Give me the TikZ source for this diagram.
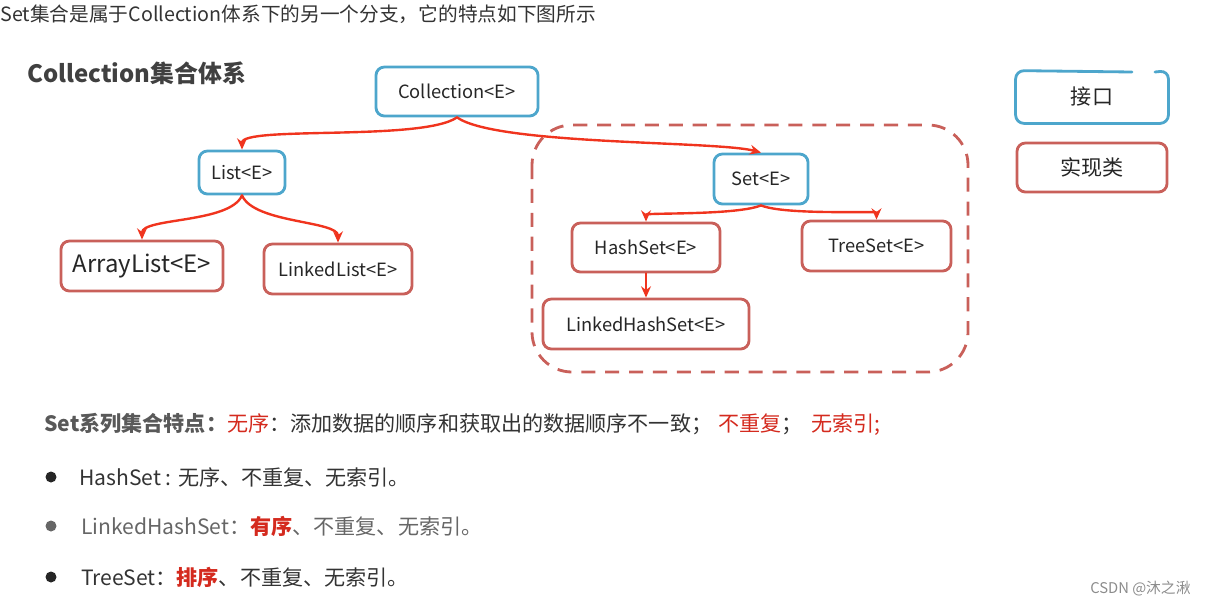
\documentclass[tikz,border=0pt]{standalone}
\usepackage{fontspec}
\setmainfont{Noto Sans CJK SC}
\usetikzlibrary{arrows.meta}
\definecolor{ifblue}{HTML}{4DA6CC}
\definecolor{clsred}{HTML}{C9605A}
\definecolor{arrred}{HTML}{F0341E}
\definecolor{txtred}{HTML}{D42A1E}
\definecolor{txtdark}{HTML}{333333}
\begin{document}
\begin{tikzpicture}[x=0.025cm,y=-0.025cm,line join=round,line cap=round,>={Stealth[length=8pt,width=7pt]},
	box/.style={rounded corners=6pt,line width=2pt,fill=white,text=black!85,font=\fontsize{13}{15}\selectfont,inner sep=0pt},
	iface/.style={box,draw=ifblue},
	impl/.style={box,draw=clsred},
	link/.style={->,draw=arrred,line width=1.7pt},
	txt/.style={anchor=west,inner sep=0pt,text=txtdark,font=\fontsize{14}{16}\selectfont}]
	\useasboundingbox (0,0) rectangle (1208,607);
	\node[txt] (intro) at (0,14) {Set集合是属于Collection体系下的另一个分支，它的特点如下图所示};
	\node[txt,font=\fontsize{17}{19}\selectfont\bfseries,text=black!75] (ttl) at (27,73) {Collection集合体系};
	% Set 的范围
	\draw[clsred,line width=2pt,dash pattern=on 10pt off 7pt,line cap=butt,rounded corners=1cm] (532,125) rectangle (968,372);
	\node[iface,minimum width=4.05cm,minimum height=1.225cm] (coll) at (457,91.5) {Collection<E>};
	\node[iface,minimum width=2.15cm,minimum height=1.075cm] (list) at (242,172.5) {List<E>};
	\node[iface,minimum width=2.35cm,minimum height=1.25cm] (set) at (761,179) {Set<E>};
	\node[impl,minimum width=4.05cm,minimum height=1.25cm,font=\fontsize{17}{19}\selectfont] (arr) at (142,266) {ArrayList<E>};
	\node[impl,minimum width=3.7cm,minimum height=1.25cm] (lnkl) at (338,269) {LinkedList<E>};
	\node[impl,minimum width=3.7cm,minimum height=1.225cm] (hset) at (646,247.5) {HashSet<E>};
	\node[impl,minimum width=3.725cm,minimum height=1.25cm] (tset) at (876.5,246) {TreeSet<E>};
	\node[impl,minimum width=5.15cm,minimum height=1.25cm] (lhset) at (646,324) {LinkedHashSet<E>};
	\draw[link] (coll.south) .. controls +(-35,24) and +(0,-24) .. (list.north);
	\draw[link] (coll.south) .. controls +(40,28) and +(-45,-12) .. (set.north);
	\draw[link] (list.south) .. controls +(-12,28) and +(0,-22) .. (arr.north);
	\draw[link] (list.south) .. controls +(12,28) and +(0,-22) .. (lnkl.north);
	\draw[link] (set.south) .. controls +(-25,10) and +(0,-9) .. (hset.north);
	\draw[link] (set.south) .. controls +(25,10) and +(0,-9) .. (tset.north);
	\draw[link] (hset) -- (lhset);
	% 图例
	\node[box,minimum width=3.75cm,minimum height=1.25cm,font=\fontsize{15}{17}\selectfont] (jk) at (1092,97) {接口};
	\draw[ifblue,line width=2pt,rounded corners=6pt] (1155,72) -- (jk.north east) -- (jk.south east) -- (jk.south west) -- (jk.north west) -- (1132,72);
	\node[impl,minimum width=3.75cm,minimum height=1.225cm,font=\fontsize{15}{17}\selectfont] (sxl) at (1092,167.5) {实现类};
	% 特点
	\node[txt,font=\fontsize{15}{18}\selectfont] (feat) at (44,424) {{\bfseries\color{black!65}Set系列集合特点：}\color{txtred}无序\color{txtdark}：添加数据的顺序和获取出的数据顺序不一致；\hspace{0.3em}\color{txtred}不重复\color{txtdark}；\hspace{0.4em}\color{txtred}无索引;};
	\fill[black!85] (51,477) circle (5.5);
	\fill[black!60] (51,526) circle (5.5);
	\fill[black!85] (51,577) circle (5.5);
	\node[txt,font=\fontsize{15}{17}\selectfont] (hs) at (79,477) {HashSet : 无序、不重复、无索引。};
	\node[txt,font=\fontsize{15}{17}\selectfont,text=black!60] (lhs) at (81,526) {LinkedHashSet：{\bfseries\color{txtred}有序}、不重复、无索引。};
	\node[txt,font=\fontsize{15}{17}\selectfont] (ts) at (81,577) {TreeSet：{\bfseries\color{txtred}排序}、不重复、无索引。};
	\node[txt,text=black!45,font=\fontsize{10.5}{12}\selectfont] (wm) at (1090,589) {CSDN @沐之湫};
\end{tikzpicture}
\end{document}
